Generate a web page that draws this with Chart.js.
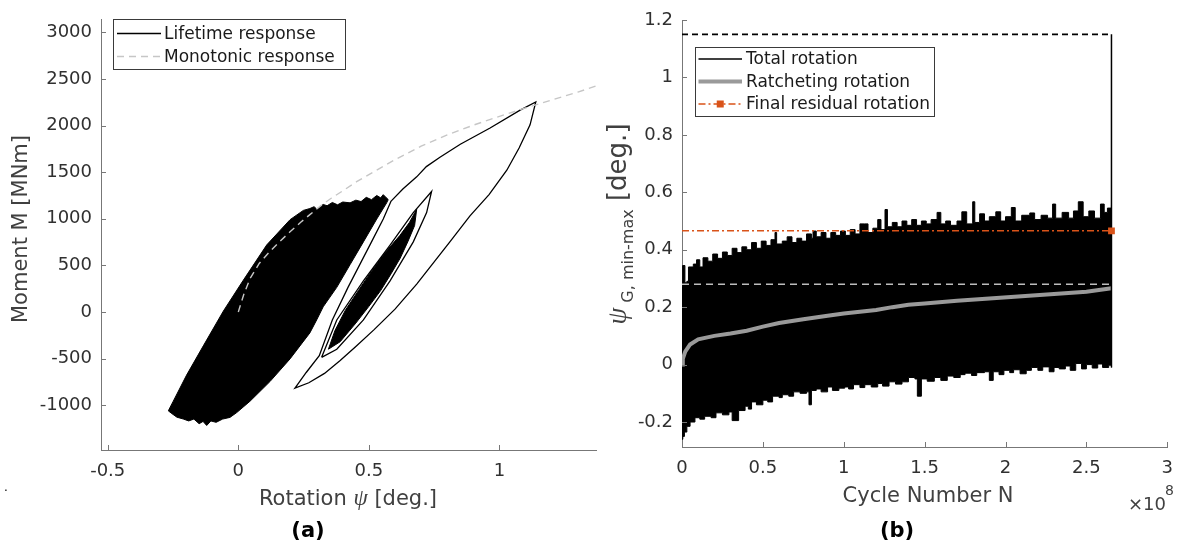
<!DOCTYPE html>
<html>
<head>
<meta charset="utf-8">
<script src="https://cdn.jsdelivr.net/npm/chart.js@4.4.1/dist/chart.umd.min.js"></script>
<style>
  html, body { margin: 0; padding: 0; background: #fff; }
  #wrap { position: relative; width: 1184px; height: 544px; overflow: hidden; }
  canvas { position: absolute; top: 0; }
  #ca { left: 0; }
  #cb { left: 600px; }
</style>
</head>
<body>
<div id="wrap">
  <canvas id="ca" width="600" height="544"></canvas>
  <canvas id="cb" width="584" height="544"></canvas>
</div>
<script>
// ---- panel (a): moment vs rotation ----
const xTicksA = [-0.5, 0, 0.5, 1];
const yTicksA = [-1000, -500, 0, 500, 1000, 1500, 2000, 2500, 3000];

// monotonic response (dashed)
const monoX = [0, 0.02, 0.045, 0.08, 0.121, 0.16, 0.198, 0.24, 0.274, 0.32, 0.357, 0.4, 0.453, 0.5, 0.6, 0.7, 0.8, 0.9, 1.0, 1.1, 1.2, 1.3, 1.38];
const monoY = [0, 180, 360, 520, 650, 760, 860, 965, 1045, 1150, 1223, 1300, 1398, 1475, 1635, 1780, 1900, 2005, 2100, 2190, 2275, 2360, 2435];

// dense cyclic region: upper boundary (left edge + top) and lower boundary (bottom + right edge)
const blobUpX = [-0.268, -0.249, -0.198, -0.134, -0.057, 0.019, 0.109, 0.198, 0.249, 0.274, 0.29, 0.3, 0.325, 0.34, 0.36, 0.38, 0.4, 0.428, 0.45, 0.47, 0.49, 0.51, 0.53, 0.545, 0.555, 0.565, 0.574];
const blobUpY = [-1062, -958, -678, -364, 10, 340, 720, 990, 1090, 1110, 1130, 1105, 1154, 1140, 1175, 1150, 1180, 1171, 1200, 1185, 1230, 1205, 1250, 1225, 1259, 1230, 1206];
const blobLoX = [-0.268, -0.25, -0.235, -0.211, -0.19, -0.17, -0.15, -0.135, -0.121, -0.105, -0.085, -0.06, -0.032, -0.006, 0.045, 0.121, 0.198, 0.274, 0.3, 0.325, 0.377, 0.428, 0.479, 0.53, 0.568, 0.574];
const blobLoY = [-1062, -1100, -1130, -1149, -1170, -1150, -1200, -1175, -1219, -1170, -1185, -1150, -1132, -1080, -958, -748, -504, -225, -86, 55, 264, 508, 752, 997, 1171, 1206];

// large excursion loop
const loopBigX = [0.585, 0.63, 0.683, 0.72, 0.772, 0.85, 0.964, 1.079, 1.139, 1.117, 1.075, 1.028, 0.96, 0.887, 0.81, 0.683, 0.6, 0.52, 0.45, 0.39, 0.33, 0.27, 0.217, 0.26, 0.31, 0.36, 0.42, 0.465, 0.51, 0.555, 0.585];
const loopBigY = [1190, 1320, 1450, 1560, 1660, 1800, 1974, 2166, 2254, 2009, 1760, 1521, 1260, 1032, 752, 299, 30, -190, -370, -520, -660, -760, -818, -650, -469, -86, 264, 508, 752, 997, 1190];

// medium loop
const loopMidX = [0.319, 0.377, 0.479, 0.581, 0.67, 0.74, 0.721, 0.67, 0.581, 0.479, 0.377, 0.319];
const loopMidY = [-487, -86, 333, 717, 1066, 1293, 1066, 752, 333, -86, -400, -487];

// inner filled lens
const innerUpX = [0.345, 0.37, 0.41, 0.46, 0.51, 0.56, 0.619, 0.655, 0.683];
const innerUpY = [-400, -200, 19, 230, 438, 630, 822, 960, 1102];
const innerLoX = [0.345, 0.39, 0.45, 0.5, 0.545, 0.585, 0.62, 0.65, 0.675, 0.683];
const innerLoY = [-400, -320, -120, 60, 229, 410, 578, 760, 927, 1102];

// ---- panel (b): rotation vs cycle number (x in units of 1e8) ----
const xTicksB = [0, 0.5, 1, 1.5, 2, 2.5, 3];
const yTicksB = [-0.2, 0, 0.2, 0.4, 0.6, 0.8, 1, 1.2];

const bandUpX = [0, 0.004, 0.012, 0.018, 0.03, 0.04, 0.07, 0.09, 0.11, 0.13, 0.16, 0.19, 0.22, 0.25, 0.28, 0.31, 0.34, 0.37, 0.40, 0.43, 0.46, 0.49, 0.52, 0.55, 0.575, 0.585, 0.62, 0.65, 0.68, 0.71, 0.74, 0.77, 0.80, 0.81, 0.83, 0.86, 0.89, 0.92, 0.95, 0.98, 1.01, 1.04, 1.07, 1.10, 1.13, 1.15, 1.18, 1.21, 1.23, 1.255, 1.27, 1.30, 1.33, 1.36, 1.39, 1.42, 1.45, 1.48, 1.51, 1.54, 1.577, 1.60, 1.63, 1.66, 1.70, 1.73, 1.76, 1.797, 1.81, 1.84, 1.87, 1.90, 1.94, 1.97, 2.00, 2.036, 2.06, 2.10, 2.15, 2.18, 2.22, 2.26, 2.291, 2.31, 2.35, 2.39, 2.42, 2.45, 2.48, 2.515, 2.55, 2.587, 2.61, 2.63, 2.655];
const bandUpY = [0.27, 0.345, 0.345, 0.285, 0.29, 0.34, 0.35, 0.365, 0.34, 0.372, 0.36, 0.385, 0.37, 0.392, 0.38, 0.405, 0.39, 0.41, 0.40, 0.425, 0.405, 0.43, 0.415, 0.435, 0.46, 0.42, 0.43, 0.445, 0.425, 0.44, 0.43, 0.455, 0.44, 0.465, 0.445, 0.46, 0.44, 0.46, 0.45, 0.465, 0.45, 0.47, 0.455, 0.49, 0.49, 0.46, 0.475, 0.505, 0.47, 0.54, 0.48, 0.495, 0.48, 0.50, 0.485, 0.505, 0.485, 0.50, 0.49, 0.505, 0.53, 0.49, 0.50, 0.485, 0.50, 0.532, 0.49, 0.567, 0.495, 0.525, 0.50, 0.515, 0.532, 0.50, 0.515, 0.547, 0.50, 0.52, 0.528, 0.505, 0.52, 0.51, 0.559, 0.51, 0.53, 0.51, 0.535, 0.567, 0.515, 0.535, 0.51, 0.559, 0.53, 0.545, 0.555];
const bandLoX = [0, 0.005, 0.015, 0.03, 0.05, 0.08, 0.11, 0.14, 0.18, 0.21, 0.25, 0.29, 0.31, 0.35, 0.39, 0.41, 0.43, 0.46, 0.50, 0.53, 0.56, 0.60, 0.62, 0.66, 0.69, 0.73, 0.77, 0.785, 0.80, 0.83, 0.86, 0.90, 0.93, 0.97, 1.006, 1.03, 1.06, 1.10, 1.13, 1.17, 1.21, 1.24, 1.28, 1.32, 1.36, 1.40, 1.44, 1.455, 1.48, 1.516, 1.56, 1.60, 1.64, 1.68, 1.72, 1.75, 1.79, 1.822, 1.87, 1.90, 1.924, 1.96, 1.99, 2.026, 2.05, 2.09, 2.128, 2.16, 2.20, 2.23, 2.27, 2.30, 2.332, 2.37, 2.40, 2.434, 2.47, 2.50, 2.536, 2.57, 2.60, 2.638, 2.655];
const bandLoY = [-0.26, -0.25, -0.235, -0.215, -0.2, -0.185, -0.19, -0.18, -0.185, -0.168, -0.175, -0.165, -0.195, -0.16, -0.145, -0.155, -0.13, -0.14, -0.124, -0.13, -0.11, -0.115, -0.105, -0.11, -0.095, -0.1, -0.095, -0.14, -0.09, -0.085, -0.095, -0.078, -0.09, -0.082, -0.078, -0.085, -0.07, -0.08, -0.07, -0.078, -0.066, -0.075, -0.06, -0.068, -0.06, -0.045, -0.05, -0.11, -0.05, -0.058, -0.045, -0.055, -0.04, -0.045, -0.035, -0.03, -0.038, -0.028, -0.025, -0.055, -0.025, -0.035, -0.02, -0.028, -0.018, -0.032, -0.02, -0.01, -0.02, -0.008, -0.025, -0.01, -0.015, -0.005, -0.02, 0.004, -0.015, 0.0, -0.012, 0.002, -0.01, -0.002, -0.01];

const ratchetX = [0, 0.005, 0.02, 0.05, 0.1, 0.2, 0.3, 0.4, 0.5, 0.6, 0.75, 0.9, 1.0, 1.1, 1.2, 1.3, 1.4, 1.5, 1.7, 1.9, 2.1, 2.3, 2.5, 2.655];
const ratchetY = [0, 0.02, 0.045, 0.07, 0.088, 0.1, 0.108, 0.118, 0.132, 0.145, 0.158, 0.17, 0.178, 0.184, 0.19, 0.2, 0.208, 0.213, 0.222, 0.23, 0.238, 0.246, 0.254, 0.266];

const nEnd = 2.655;          // last cycle (x 1e8)
const totalMax = 1.15;       // peak total rotation
const totalEndMin = -0.01;   // lower end of final jump
const ratchetMaxLine = 0.28; // dashed gray level
const residual = 0.466;      // final residual rotation

const FONT = '"DejaVu Sans", sans-serif';
const AX = '#777777';
const TXT = '#303030';
const TITLE = '#404040';
const MONO = '#c6c6c6';
const RATCH = '#9a9a9a';
const GDASH = '#bdbdbd';
const ORANGE = '#d95319';

const pts = (xs, ys) => xs.map((x, i) => ({ x: x, y: ys[i] }));

function line(data, color, width, dash, extra) {
  return Object.assign({
    data: data, showLine: true, borderColor: color, borderWidth: width,
    borderDash: dash || [], pointRadius: 0, fill: false, tension: 0
  }, extra || {});
}

function drawInwardTicks(chart) {
  const ctx = chart.ctx, a = chart.chartArea;
  const xs = chart.scales.x, ys = chart.scales.y;
  ctx.save();
  ctx.strokeStyle = AX; ctx.lineWidth = 1;
  ctx.beginPath();
  xs.ticks.forEach(t => {
    const p = Math.round(xs.getPixelForValue(t.value)) + 0.5;
    ctx.moveTo(p, a.bottom); ctx.lineTo(p, a.bottom - 5);
  });
  ys.ticks.forEach(t => {
    const p = Math.round(ys.getPixelForValue(t.value)) + 0.5;
    ctx.moveTo(a.left, p); ctx.lineTo(a.left + 5, p);
  });
  ctx.stroke();
  ctx.restore();
}

// text made of pieces with own fonts; rot = rotate 90deg ccw
function drawParts(ctx, parts, x, y, rot, color) {
  ctx.save();
  ctx.fillStyle = color;
  ctx.textBaseline = 'alphabetic';
  ctx.textAlign = 'left';
  let total = 0;
  parts.forEach(p => { ctx.font = p.font; p.w = ctx.measureText(p.t).width; total += p.w; });
  ctx.translate(x, y);
  if (rot) ctx.rotate(-Math.PI / 2);
  let cur = -total / 2;
  parts.forEach(p => { ctx.font = p.font; ctx.fillText(p.t, cur, p.dy || 0); cur += p.w; });
  ctx.restore();
}

function drawLegend(ctx, box, rows) {
  ctx.save();
  ctx.fillStyle = '#fff';
  ctx.fillRect(box.x, box.y, box.w, box.h);
  ctx.strokeStyle = '#3a3a3a'; ctx.lineWidth = 1;
  ctx.strokeRect(box.x + 0.5, box.y + 0.5, box.w, box.h);
  rows.forEach(r => {
    ctx.save();
    ctx.strokeStyle = r.color; ctx.lineWidth = r.width;
    ctx.setLineDash(r.dash || []);
    ctx.beginPath();
    ctx.moveTo(box.x + box.s0, r.y); ctx.lineTo(box.x + box.s1, r.y);
    ctx.stroke();
    ctx.restore();
    if (r.marker) {
      ctx.fillStyle = r.color;
      const mx = box.x + (box.s0 + box.s1) / 2;
      ctx.fillRect(mx - 3.5, r.y - 3.5, 7, 7);
    }
    ctx.fillStyle = '#1a1a1a';
    ctx.font = '17px ' + FONT;
    ctx.textBaseline = 'middle';
    ctx.fillText(r.text, box.x + box.tx, r.y + 1);
  });
  ctx.restore();
}

const decorA = {
  id: 'decorA',
  afterDraw(chart) {
    const ctx = chart.ctx;
    drawInwardTicks(chart);
    drawParts(ctx, [{ t: 'Moment M [MNm]', font: '21px ' + FONT }], 27, 229, true, TITLE);
    drawParts(ctx, [
      { t: 'Rotation ', font: '21px ' + FONT },
      { t: 'ψ', font: 'italic 23px "Liberation Serif"' },
      { t: ' [deg.]', font: '21px ' + FONT }
    ], 348, 505, false, TITLE);
    drawParts(ctx, [{ t: '(a)', font: 'bold 21px ' + FONT }], 308, 537, false, '#000');
    drawParts(ctx, [{ t: '.', font: '12px ' + FONT }], 6, 491, false, '#000');
    drawLegend(ctx, { x: 113, y: 19, w: 232, h: 50, s0: 4, s1: 48, tx: 51 }, [
      { y: 33.5, color: '#000', width: 1.3, text: 'Lifetime response' },
      { y: 56.5, color: MONO, width: 1.3, dash: [7, 5], text: 'Monotonic response' }
    ]);
  }
};

const decorB = {
  id: 'decorB',
  afterDraw(chart) {
    const ctx = chart.ctx;
    drawInwardTicks(chart);
    drawParts(ctx, [
      { t: 'ψ', font: 'italic 27px "Liberation Serif"' },
      { t: ' G, min-max', font: '16px ' + FONT, dy: 7 },
      { t: ' [deg.]', font: '26px ' + FONT }
    ], 26, 224, true, TITLE);
    drawParts(ctx, [{ t: 'Cycle Number N', font: '21px ' + FONT }], 328, 502, false, TITLE);
    ctx.save();
    ctx.fillStyle = TITLE; ctx.textBaseline = 'alphabetic';
    ctx.font = '18px ' + FONT;
    ctx.fillText('×10', 528, 510);
    ctx.font = '14px ' + FONT;
    ctx.fillText('8', 565, 495);
    ctx.restore();
    drawParts(ctx, [{ t: '(b)', font: 'bold 21px ' + FONT }], 297, 537, false, '#000');
    drawLegend(ctx, { x: 95, y: 47, w: 239, h: 69, s0: 3.5, s1: 47, tx: 51 }, [
      { y: 59, color: '#000', width: 1.5, text: 'Total rotation' },
      { y: 81.5, color: RATCH, width: 4, text: 'Ratcheting rotation' },
      { y: 104, color: ORANGE, width: 1.5, dash: [7, 3, 2, 3], marker: true, text: 'Final residual rotation' }
    ]);
  }
};

function axisOpts(min, max, tickVals, pad, fit) {
  return {
    type: 'linear', min: min, max: max,
    grid: { display: false, drawTicks: false },
    border: { display: true, color: AX, width: 1 },
    ticks: {
      font: { family: FONT, size: 18 }, color: TXT, padding: pad,
      autoSkip: false, maxRotation: 0, callback: v => String(v)
    },
    afterBuildTicks: s => { s.ticks = tickVals.map(v => ({ value: v })); },
    afterFit: fit
  };
}

const common = {
  responsive: false, animation: false, devicePixelRatio: 1,
  plugins: { legend: { display: false }, tooltip: { enabled: false } }
};

new Chart(document.getElementById('ca'), {
  type: 'scatter',
  data: {
    datasets: [
      line(pts(monoX, monoY), MONO, 1.4, [7, 5]),
      line(pts(loopBigX, loopBigY), '#000', 1.3),
      line(pts(loopMidX, loopMidY), '#000', 1.3),
      line(pts(innerUpX, innerUpY), '#000', 1, null, { fill: '+1', backgroundColor: '#000' }),
      line(pts(innerLoX, innerLoY), '#000', 1),
      line(pts(blobUpX, blobUpY), '#000', 1, null, { fill: '+1', backgroundColor: '#000' }),
      line(pts(blobLoX, blobLoY), '#000', 1)
    ]
  },
  options: Object.assign({}, common, {
    layout: { padding: { left: 0, right: 4, top: 9, bottom: 0 } },
    scales: {
      x: axisOpts(-0.5257, 1.3695, xTicksA, 11, s => { s.height = 94; }),
      y: axisOpts(-1482, 3136, yTicksA, 9, s => { s.width = 101; })
    }
  }),
  plugins: [decorA]
});

new Chart(document.getElementById('cb'), {
  type: 'scatter',
  data: {
    datasets: [
      line([{ x: 0, y: residual }, { x: nEnd, y: residual }], ORANGE, 1.5, [7, 3, 2, 3],
        { pointRadius: [0, 4.8], pointStyle: 'rect', pointBackgroundColor: ORANGE, pointBorderWidth: 0 }),
      line([{ x: nEnd, y: totalEndMin }, { x: nEnd, y: totalMax }], '#000', 1.5),
      line([{ x: 0, y: totalMax }, { x: nEnd, y: totalMax }], '#000', 1.6, [6, 4]),
      line(pts(ratchetX, ratchetY), RATCH, 4),
      line([{ x: 0, y: ratchetMaxLine }, { x: nEnd, y: ratchetMaxLine }], GDASH, 1.5, [7, 5]),
      line(pts(bandUpX, bandUpY), '#000', 1, null, { fill: '+1', backgroundColor: '#000', stepped: true }),
      line(pts(bandLoX, bandLoY), '#000', 1, null, { stepped: true })
    ]
  },
  options: Object.assign({}, common, {
    layout: { padding: { left: 0, right: 11, top: 20, bottom: 0 } },
    scales: {
      x: axisOpts(0, 3, xTicksB, 11, s => { s.height = 97; }),
      y: axisOpts(-0.287, 1.2, yTicksB, 9, s => { s.width = 82; })
    }
  }),
  plugins: [decorB]
});
</script>
</body>
</html>
